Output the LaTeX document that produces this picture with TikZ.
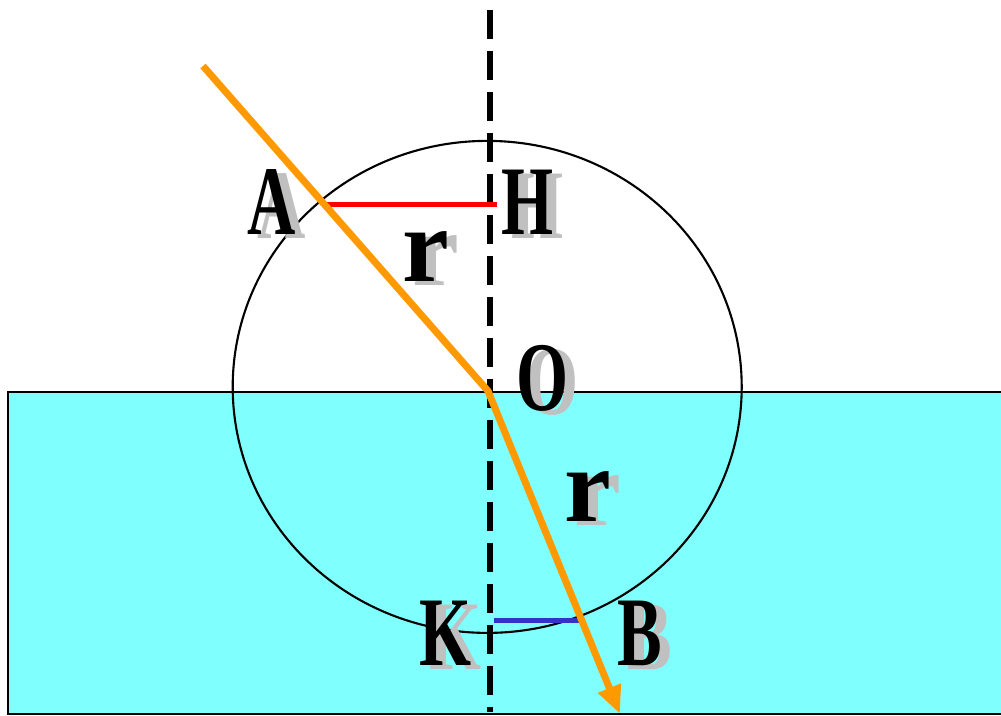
\documentclass[tikz,border=0pt]{standalone}
\usepackage{fontspec}
\setmainfont{Liberation Serif}
\newfontfamily\lblfont{Liberation Serif Bold}[FakeStretch=0.68]
\newfontfamily\rfont{Liberation Serif Bold}
\usepackage{xcolor}
\usepackage{tikz}
\usetikzlibrary{arrows.meta}
\definecolor{water}{HTML}{80FFFF}
\definecolor{ray}{HTML}{FF9900}
\definecolor{shade}{HTML}{C0C0C0}
\definecolor{kblue}{HTML}{3333CC}
\newcommand\shadowed[1]{\rlap{\hspace{1mm}\raisebox{-0.4mm}{\textcolor{shade}{#1}}}#1}

\begin{document}
\begin{tikzpicture}[
  x=0.1mm,y=-0.1mm,
  lbl/.style={inner sep=0pt,font=\fontsize{28}{28}\lblfont},
  rlbl/.style={inner sep=0pt,font=\fontsize{30}{30}\rfont},
  normal/.style={line width=1.5pt,dash pattern=on 2.9mm off 1.2mm},
  lightray/.style={ray,line width=2pt},
  arr/.style={-{Triangle[length=2.8mm,width=2.3mm]}},
]
\useasboundingbox (0,0) rectangle (1001,716);
% water
\draw[fill=water,line width=0.6pt] (1010,392) -- (8,392) -- (8,714) -- (1010,714);
% circle round O
\draw[line width=0.6pt] (487.2,386.9) ellipse [x radius=254.5,y radius=246];
\coordinate (S) at (203,66);
\coordinate (O) at (488,391);
\coordinate (E) at (620,714);
\coordinate (top) at (490,10);
\coordinate (bot) at (490,712);
\coordinate (pA) at (326,204.5);
\coordinate (pH) at (497,204.5);
\coordinate (pK) at (494,620.5);
\coordinate (pB) at (585,620.5);
\draw[normal] (top) -- (bot);
\draw[red,line width=1.6pt] (pA) -- (pH);
\draw[kblue,line width=1.6pt] (pK) -- (pB);
\draw[lightray,arr] (S) -- (O) -- (E);
% labels
\node[lbl] (A) at (272,204) {\shadowed{A}};
\node[lbl] (H) at (528,204) {\shadowed{H}};
\node[lbl] (Ol) at (543,380) {\shadowed{O}};
\node[lbl] (K) at (446,635) {\shadowed{K}};
\node[lbl] (B) at (640,635) {\shadowed{B}};
\node[rlbl] (r1) at (426,259) {\shadowed{r}};
\node[rlbl] (r2) at (588,499) {\shadowed{r}};
\end{tikzpicture}
\end{document}
